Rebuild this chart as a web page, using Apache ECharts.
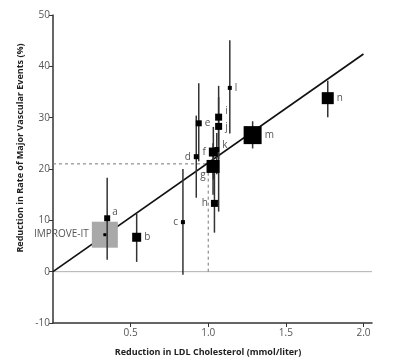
<!DOCTYPE html>
<html><head><meta charset="utf-8">
<script src="https://cdn.jsdelivr.net/npm/echarts@6/dist/echarts.min.js"></script>
<style>html,body{margin:0;padding:0;background:#fff}#c{width:396px;height:363px}</style>
</head><body><div id="c"></div>
<script>
// ---- data ----
const studies = ['a','b','c','d','e','f','g','h','i','j','k','l','m','n'];
const ldlReduction = [0.349,0.539,0.837,0.923,0.939,1.033,1.031,1.040,1.067,1.067,1.055,1.139,1.286,1.770];
const eventReduction = [10.4,6.7,9.65,22.4,28.9,23.3,20.5,13.3,30.1,28.3,23.8,35.8,26.6,33.8];
const ciLow  = [2.3,1.9,-0.6,14.4,21.5,18.0,15.0,7.6,22.0,11.7,19.0,26.9,24.0,30.1];
const ciHigh = [18.3,11.3,20.0,30.4,36.7,28.2,25.0,21.0,36.2,34.0,27.0,45.1,29.3,37.2];
const studyWeight = [6,9,4,5,6,9,13,7,7,7,5,4,18,12];
const improveName = 'IMPROVE-IT';
const improveLdl = 0.334;
const improveEvent = 7.2;
const regressionX = [0, 2.0];
const regressionY = [0, 42.4];
const refLdl = 1.0;
const refEvent = 21;
const xTicks = [0.5, 1.0, 1.5, 2.0];
const yTicks = [-10, 0, 10, 20, 30, 40, 50];
const xTitle = 'Reduction in LDL Cholesterol (mmol/liter)';
const yTitle = 'Reduction in Rate of Major Vascular Events (%)';

// ---- label placement (layout only) ----
const labelPlace = {
  a:['right',[-1,-6]], b:['right',[0,0]], c:['left',[0,0]], d:['left',[0,0]],
  e:['right',[0,0]], f:['left',[0,0]], g:['bottom',[-10,-6]], h:['left',[0,0]],
  i:['right',[0,-6]], j:['right',[0,1]], k:['right',[0,-4]], l:['right',[0,0]],
  m:['right',[0,0]], n:['right',[0,0]]
};
const FONT = 'Open Sans';
const chart = echarts.init(document.getElementById('c'));

const squares = studies.map((s,i)=>({
  name:s, value:[ldlReduction[i], eventReduction[i]], symbolSize:studyWeight[i],
  label:{show:true, formatter:s, position:labelPlace[s][0], offset:labelPlace[s][1], distance:3,
         color:'#555', fontSize:10, fontFamily:FONT}
}));
const bars = studies.map((s,i)=>[ldlReduction[i], ciLow[i], ciHigh[i]]);

chart.setOption({
  animation:false,
  backgroundColor:'#fff',
  grid:{left:53, right:24, top:15, bottom:40},
  xAxis:{type:'value', min:0, max:2.055, interval:0.5,
    splitLine:{show:false},
    axisLine:{onZero:false, lineStyle:{color:'#333', width:1.5}},
    axisTick:{show:true, length:4, customValues:xTicks, lineStyle:{color:'#333'}},
    axisLabel:{customValues:xTicks, formatter:v=>v.toFixed(1), color:'#555', fontSize:10, fontFamily:FONT, margin:5}
  },
  yAxis:{type:'value', min:-10, max:50, interval:10,
    splitLine:{show:false},
    axisLine:{show:true, onZero:false, lineStyle:{color:'#333', width:1.5}},
    axisTick:{show:true, length:4, customValues:yTicks, lineStyle:{color:'#333'}},
    axisLabel:{customValues:yTicks, color:'#555', fontSize:10, fontFamily:FONT, margin:3}
  },
  graphic:[
    {type:'text', x:208, y:352, style:{text:xTitle, font:'bold 9px "Open Sans"', fill:'#222', textAlign:'center', textVerticalAlign:'middle'}},
    {type:'text', x:20, y:148, rotation:Math.PI/2, style:{text:yTitle, font:'bold 9px "Open Sans"', fill:'#222', textAlign:'center', textVerticalAlign:'middle'}}
  ],
  series:[
    {type:'line', data:[[0,0],[2.055,0]], symbol:'none', lineStyle:{color:'#b0b0b0', width:1}, z:1, silent:true},
    {type:'line', data:[[0,refEvent],[refLdl,refEvent]], symbol:'none', lineStyle:{color:'#777', width:1, type:[3,3]}, z:1},
    {type:'line', data:[[refLdl,0],[refLdl,refEvent]], symbol:'none', lineStyle:{color:'#777', width:1, type:[3,3]}, z:1},
    {type:'line', data:regressionX.map((x,i)=>[x, regressionY[i]]), symbol:'none', lineStyle:{color:'#111', width:1.7}, z:2},
    {type:'scatter', data:[{value:[improveLdl, improveEvent], symbolSize:26,
        label:{show:true, formatter:improveName, position:'left', distance:3, offset:[0,-1], color:'#555', fontSize:10, fontFamily:FONT}}],
      symbol:'rect', itemStyle:{color:'#a9a9a9', opacity:1}, z:3},
    {type:'custom', data:bars, z:4,
      renderItem:(params, api)=>{
        const p1 = api.coord([api.value(0), api.value(1)]);
        const p2 = api.coord([api.value(0), api.value(2)]);
        return {type:'line', shape:{x1:p1[0], y1:p1[1], x2:p2[0], y2:p2[1]}, style:{stroke:'#333', lineWidth:1.5}};
      }},
    {type:'scatter', data:[[improveLdl, improveEvent]], symbol:'rect', symbolSize:3, itemStyle:{color:'#000', opacity:1}, z:5},
    {type:'scatter', data:squares, symbol:'rect', itemStyle:{color:'#000', opacity:1}, z:6}
  ]
});
</script></body></html>
